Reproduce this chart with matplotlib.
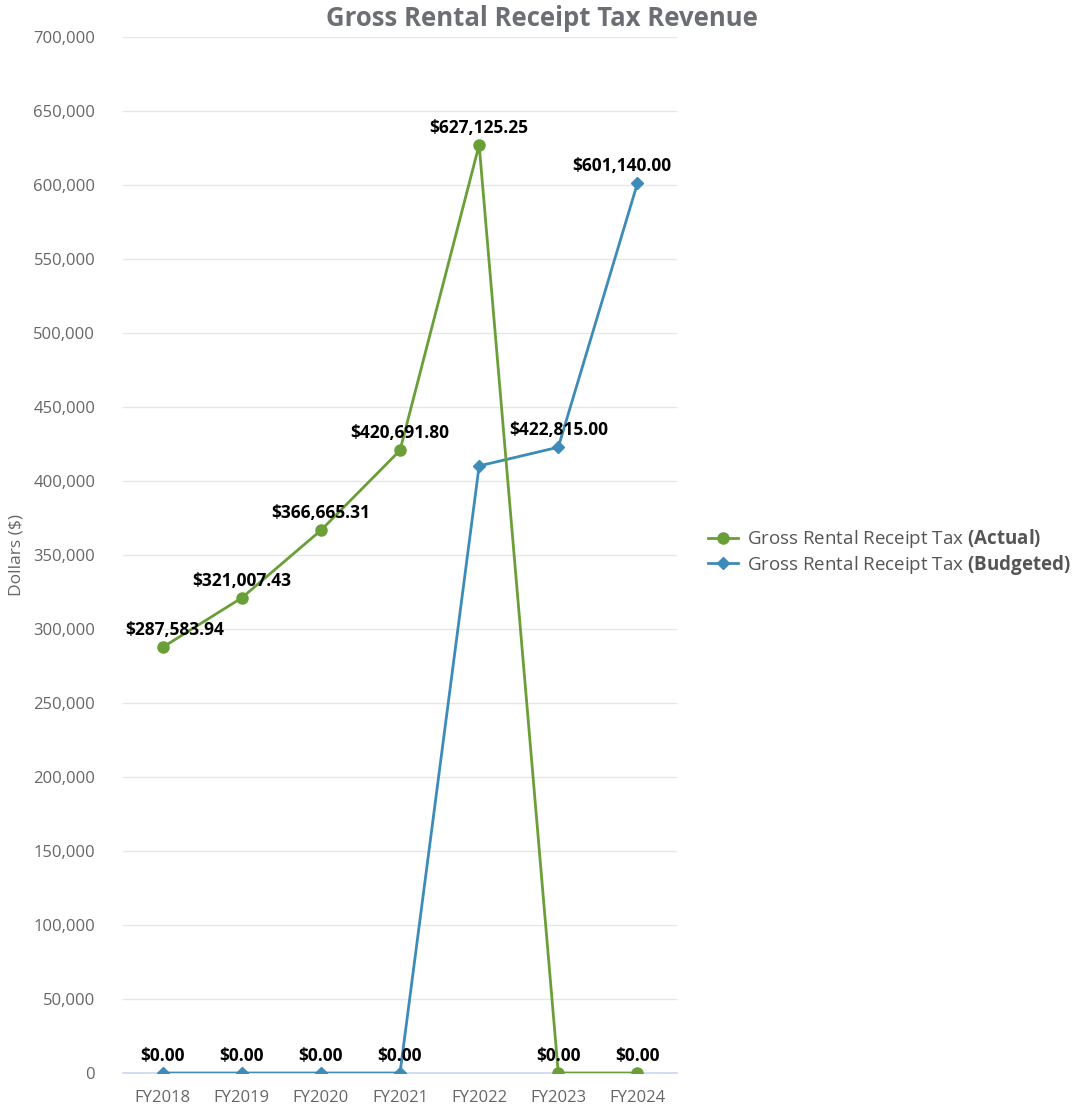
import matplotlib.pyplot as plt
import matplotlib.ticker as ticker

plt.rcParams['font.family'] = ['Open Sans', 'DejaVu Sans']
plt.rcParams['mathtext.fontset'] = 'custom'
plt.rcParams['mathtext.rm'] = 'Open Sans'
plt.rcParams['mathtext.bf'] = 'Open Sans:bold'

years = ["FY2018", "FY2019", "FY2020", "FY2021", "FY2022", "FY2023", "FY2024"]
actual = [287583.94, 321007.43, 366665.31, 420691.80, 627125.25, 0.0, 0.0]
budgeted = [0.0, 0.0, 0.0, 0.0, 410200.0, 422815.0, 601140.0]

# data labels shown in the chart (the FY2022 budget one is hidden by overlap)
label_actual = [True, True, True, True, True, True, True]
label_budget = [True, True, True, True, False, True, True]

green = "#6a9f38"
blue = "#3d8bb9"
gray = "#666666"

fig = plt.figure(figsize=(10.74, 11.06), dpi=100)
ax = fig.add_axes([123 / 1074, 1 - 1073 / 1106, (677 - 123) / 1074, (1073 - 37) / 1106])

x = list(range(len(years)))
ax.plot(x, budgeted, color=blue, lw=2.0, marker="D", markersize=6, zorder=3,
        label=r"Gross Rental Receipt Tax $\bf{(Budgeted)}$")
ax.plot(x, actual, color=green, lw=2.0, marker="o", markersize=8, zorder=4,
        label=r"Gross Rental Receipt Tax $\bf{(Actual)}$")

ax.set_xlim(-0.5, len(years) - 0.5)
ax.set_ylim(0, 700000)
ax.set_xticks(x)
ax.set_xticklabels(years)
ax.yaxis.set_major_locator(ticker.MultipleLocator(50000))
ax.yaxis.set_major_formatter(ticker.FuncFormatter(lambda v, p: f"{int(v):,}"))
ax.tick_params(axis="both", length=0, labelsize=12, colors=gray)
ax.tick_params(axis="y", pad=20)
ax.tick_params(axis="x", pad=12)
ax.grid(axis="y", color="#e6e6e6", lw=1)
ax.set_axisbelow(True)
for s in ["top", "right", "left"]:
    ax.spines[s].set_visible(False)
ax.spines["bottom"].set_color("#ccd6eb")
ax.spines["bottom"].set_linewidth(1.2)

ax.set_ylabel("Dollars ($)", fontsize=12.5, color=gray, labelpad=6)
fig.text(542 / 1074, 1 - 18 / 1106, "Gross Rental Receipt Tax Revenue", ha="center", va="center",
         fontsize=18.5, fontweight="bold", color="#6b6e73")


def lab(i, v):
    dx = 0
    if i == 0 and v > 0:
        dx = 9
    if i == len(years) - 1 and v > 0:
        dx = -11
    ax.annotate(f"${v:,.2f}", (i, v), xytext=(dx, 6), textcoords="offset points",
                ha="center", va="bottom", fontsize=12.5, fontweight="bold", color="black",
                zorder=6)


for i in x:
    if label_actual[i] and (actual[i] > 0 or i > 4):
        lab(i, actual[i])
    if label_budget[i] and (budgeted[i] > 0 or i < 4):
        lab(i, budgeted[i])

h, l = ax.get_legend_handles_labels()
fig.legend(h[::-1], l[::-1], loc="center left", bbox_to_anchor=(700 / 1074, 1 - 552 / 1106),
           frameon=False, fontsize=13.5, labelcolor="#555555", handlelength=1.6,
           handletextpad=0.5, labelspacing=0.15, borderaxespad=0)

fig.savefig("out.png", dpi=100)
